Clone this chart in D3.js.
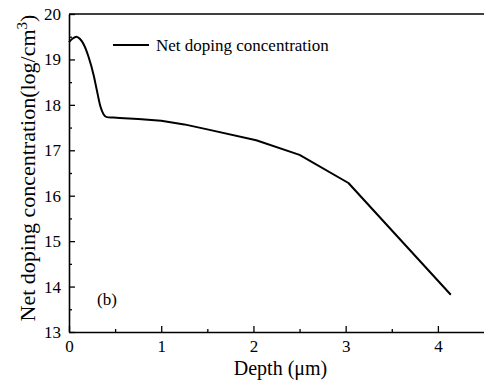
<!DOCTYPE html>
<html>
<head>
<meta charset="utf-8">
<script src="https://cdn.jsdelivr.net/npm/d3@7"></script>
<style>
  html, body { margin: 0; padding: 0; background: #fff; }
  svg { display: block; font-family: "Liberation Serif", "Times New Roman", serif; }
  svg text { font-family: "Liberation Serif", "Times New Roman", serif; }
</style>
</head>
<body>
<div id="chart"></div>
<script>
// depth (um) and net doping (log/cm3)
// smooth surface peak region
const headDepth = [0, 0.04, 0.08, 0.12, 0.16, 0.21, 0.27, 0.30, 0.34, 0.376, 0.41, 0.48, 0.55];
const headDoping = [19.38, 19.46, 19.50, 19.45, 19.33, 19.07, 18.63, 18.34, 17.97, 17.79, 17.73, 17.72, 17.71];
// bulk region, straight segments
const tailDepth = [0.55, 0.75, 1.0, 1.25, 1.5, 2.03, 2.5, 3.03, 4.14];
const tailDoping = [17.71, 17.69, 17.65, 17.57, 17.46, 17.22, 16.9, 16.28, 13.82];

const xTicks = [0, 1, 2, 3, 4];
const yTicks = [13, 14, 15, 16, 17, 18, 19, 20];
const seriesName = 'Net doping concentration';

const width = 484, height = 380;
const margin = { top: 14, right: 0, bottom: 48, left: 69 };

const svg = d3.select('#chart').append('svg')
  .attr('width', width)
  .attr('height', height);

const x = d3.scaleLinear().domain([0, 4.5]).range([margin.left, width - margin.right]);
const y = d3.scaleLinear().domain([13, 20]).range([height - margin.bottom, margin.top]);

// minor ticks
const xMinor = d3.range(0.5, 4.5, 1);
const yMinor = d3.range(13.5, 20, 1);

svg.append('g')
  .attr('transform', `translate(0,${y(13)})`)
  .call(d3.axisBottom(x).tickValues(xTicks).tickSizeInner(-6).tickSizeOuter(0).tickPadding(8).tickFormat(d3.format('d')));
svg.append('g')
  .attr('transform', `translate(0,${y(13)})`)
  .call(d3.axisBottom(x).tickValues(xMinor).tickSizeInner(-3).tickSizeOuter(0).tickFormat(''))
  .select('.domain').remove();

svg.append('g')
  .attr('transform', `translate(${x(0)},0)`)
  .call(d3.axisLeft(y).tickValues(yTicks).tickSizeInner(-6).tickSizeOuter(0).tickPadding(8).tickFormat(d3.format('d')));
svg.append('g')
  .attr('transform', `translate(${x(0)},0)`)
  .call(d3.axisLeft(y).tickValues(yMinor).tickSizeInner(-3).tickSizeOuter(0).tickFormat(''))
  .select('.domain').remove();

svg.selectAll('.domain').attr('stroke', '#000').attr('stroke-width', 1.6);
svg.selectAll('.tick line').attr('stroke', '#000').attr('stroke-width', 1.3);
svg.selectAll('.tick text').attr('fill', '#000')
  .style('font-family', '"Liberation Serif", serif')
  .style('font-size', '17px');

// top frame line
svg.append('line')
  .attr('x1', x(0)).attr('x2', width)
  .attr('y1', y(20)).attr('y2', y(20))
  .attr('stroke', '#000').attr('stroke-width', 1.6);

// curve: smooth head + straight tail
const head = headDepth.map((d, i) => [d, headDoping[i]]);
const tail = tailDepth.map((d, i) => [d, tailDoping[i]]);
const headPath = d3.line().x(d => x(d[0])).y(d => y(d[1])).curve(d3.curveMonotoneX)(head);
const tailPath = d3.line().x(d => x(d[0])).y(d => y(d[1]))(tail.slice(1));
svg.append('path')
  .attr('fill', 'none')
  .attr('stroke', '#000')
  .attr('stroke-width', 2)
  .attr('stroke-linejoin', 'round')
  .attr('d', headPath + tailPath.replace(/^M/, 'L'));

// legend
svg.append('line')
  .attr('x1', 113).attr('x2', 149).attr('y1', 45).attr('y2', 45)
  .attr('stroke', '#000').attr('stroke-width', 2);
svg.append('text')
  .attr('x', 156).attr('y', 51)
  .style('font-size', '17px')
  .text(seriesName);

// panel label
svg.append('text')
  .attr('x', 97).attr('y', 305)
  .style('font-size', '17px')
  .text('(b)');

// axis titles
svg.append('text')
  .attr('x', (x(0) + width) / 2 + 4).attr('y', 375)
  .attr('text-anchor', 'middle')
  .style('font-size', '20px')
  .text('Depth (\u03bcm)');

const yt = svg.append('text')
  .attr('transform', 'translate(35,168) rotate(-90)')
  .attr('text-anchor', 'middle')
  .style('font-size', '22px');
yt.append('tspan').text('Net doping concentration(log/cm');
yt.append('tspan').attr('dy', -8).style('font-size', '15px').text('3');
yt.append('tspan').attr('dy', 8).text(')');
</script>
</body>
</html>
